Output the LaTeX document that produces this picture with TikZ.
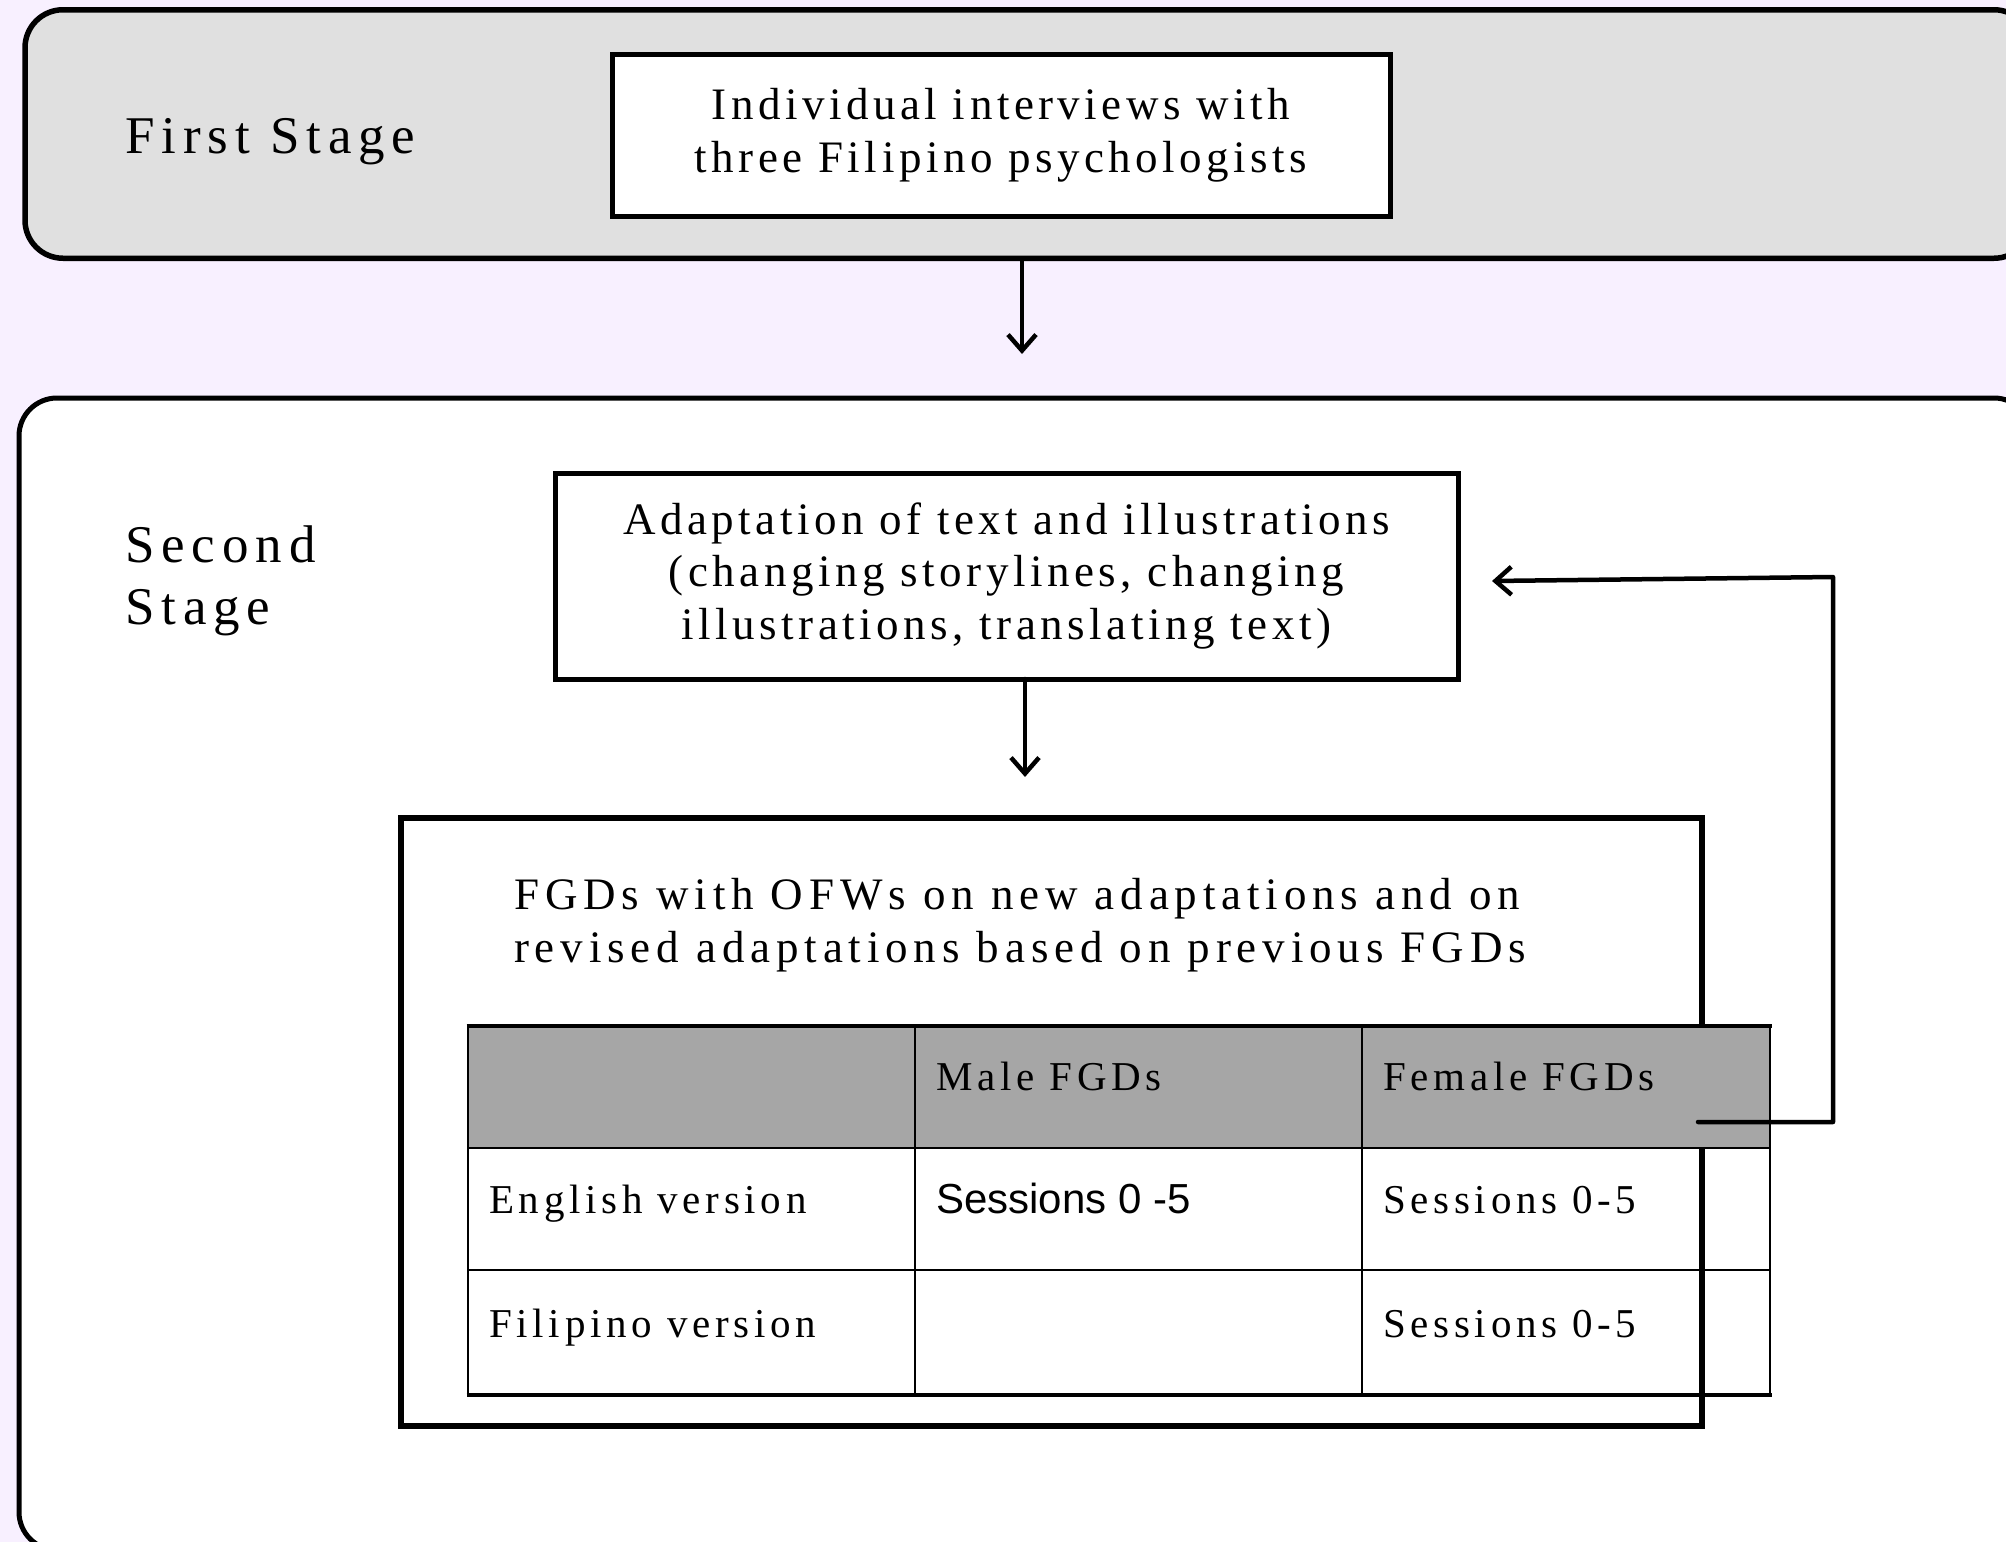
\documentclass[tikz,border=0pt]{standalone}
\usepackage{fontspec}
\setmainfont{Liberation Serif}[LetterSpace=10]
\newfontfamily\arialfont{Liberation Sans}
\usetikzlibrary{arrows.meta}
\definecolor{bgcol}{HTML}{F8F0FF}
\definecolor{stagegray}{HTML}{E0E0E0}
\definecolor{headgray}{HTML}{A6A6A6}
\begin{document}
\begin{tikzpicture}[x=1pt,y=-1pt,
  stagebox/.style={draw=black, line width=5.5pt, rounded corners=38pt, inner sep=0pt},
  boxnode/.style={draw=black, line width=5pt, fill=white, align=center, inner sep=0pt},
  stagefont/.style={font=\fontsize{53}{61}\selectfont\addfontfeatures{LetterSpace=13}},
  boxfont/.style={font=\fontsize{45}{52.5}\selectfont},
  fgdfont/.style={font=\fontsize{45}{52.5}\selectfont\addfontfeatures{LetterSpace=13}},
  tabfont/.style={font=\fontsize{41}{47}\selectfont\addfontfeatures{LetterSpace=11.5}},
  arr/.style={line width=4.5pt, line cap=round, line join=round, -{Straight Barb[length=16pt,width=28pt]}},
  lbl/.style={anchor=base west, inner sep=0pt},
  tline/.style={line width=2.5pt},
]
\useasboundingbox (0,0) rectangle (2006,1542);
\clip (0,0) rectangle (2006,1542);
\fill[bgcol] (0,0) rectangle (2006,1542);

% first stage
\node[stagebox, fill=stagegray, minimum width=2007pt, minimum height=248.5pt] (s1) at (1028.5,134) {};
\node[lbl, stagefont] (s1lbl) at (125,153) {First Stage};
\node[boxnode, boxfont, minimum width=778pt, minimum height=162pt] (int) at (1001,135)
  {Individual interviews with\\three Filipino psychologists};

% arrow to second stage
\coordinate (a1s) at (1022,261);
\coordinate (a1e) at (1022,354);
\draw[arr] (a1s) -- (a1e);

% second stage
\node[stagebox, fill=white, line width=5pt, minimum width=2013pt, minimum height=1152pt] (s2) at (1025.5,974) {};
\node[lbl, stagefont] (s2lbla) at (125,562) {Second};
\node[lbl, stagefont] (s2lblb) at (125,624) {Stage};

\node[boxnode, boxfont, minimum width=903pt, minimum height=206pt] (adapt) at (1006.5,576)
  {Adaptation of text and illustrations\\(changing storylines, changing\\illustrations, translating text)};

\coordinate (a2s) at (1025,679);
\coordinate (a2e) at (1025,777);
\draw[arr] (a2s) -- (a2e);

% FGD box
\node[draw=black, line width=6pt, fill=white, minimum width=1301pt, minimum height=608pt, inner sep=0pt] (fgd) at (1051.5,1122) {};
\node[fgdfont, anchor=west, align=left, inner sep=0pt] (fgdtxt) at (514,925)
  {FGDs with OFWs on new adaptations and on\\revised adaptations based on previous FGDs};

% table
\fill[headgray] (468,1026) rectangle (1770,1148);
\draw[tline] (468,1148) -- (1770,1148);
\draw[tline] (468,1270) -- (1770,1270);
\draw[tline] (468,1026) -- (468,1395);
\draw[tline] (915,1026) -- (915,1395);
\draw[tline] (1362,1026) -- (1362,1395);
\draw[tline] (1770,1026) -- (1770,1395);
\draw[line width=3.5pt] (466.5,1026) -- (1771.5,1026);
\draw[line width=4pt] (466.5,1395) -- (1771.5,1395);

\node[lbl, tabfont] (male) at (936,1090) {Male FGDs};
\node[lbl, tabfont] (female) at (1383,1090) {Female FGDs};
\node[lbl, tabfont] (eng) at (489,1213) {English version};
\node[lbl, font=\arialfont\fontsize{42}{48}\selectfont] (engm) at (936,1213) {Sessions 0 -5};
\node[lbl, tabfont] (engf) at (1383,1213) {Sessions 0-5};
\node[lbl, tabfont] (fil) at (489,1337) {Filipino version};
\node[lbl, tabfont] (filf) at (1383,1337) {Sessions 0-5};

% feedback loop
\coordinate (fbs) at (1698,1122);
\coordinate (fbc1) at (1833,1122);
\coordinate (fbc2) at (1833,577);
\coordinate (fbe) at (1492,581);
\draw[arr] (fbs) -- (fbc1) -- (fbc2) -- (fbe);
\end{tikzpicture}
\end{document}
